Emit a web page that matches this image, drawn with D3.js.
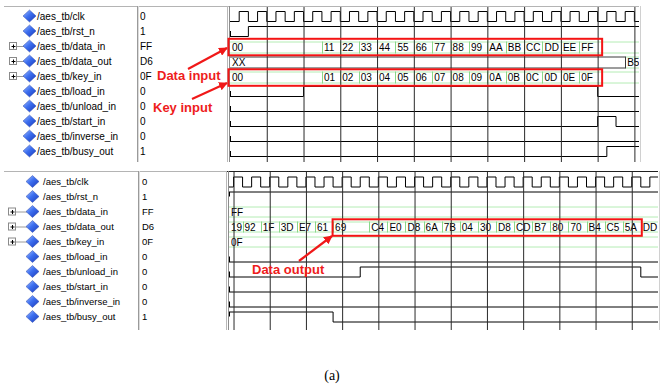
<!DOCTYPE html>
<html>
<head>
<meta charset="utf-8">
<script src="https://cdn.jsdelivr.net/npm/d3@7"></script>
<style>
  body { margin: 0; background: #fff; }
  svg { display: block; }
  text { font-family: "Liberation Sans", Arial, sans-serif; }
</style>
</head>
<body>
<div id="chart"></div>
<script>
// signals listed in both panes
const signalNames = ['/aes_tb/clk', '/aes_tb/rst_n', '/aes_tb/data_in', '/aes_tb/data_out', '/aes_tb/key_in',
    '/aes_tb/load_in', '/aes_tb/unload_in', '/aes_tb/start_in', '/aes_tb/inverse_in', '/aes_tb/busy_out'];
const busSignals = ['/aes_tb/data_in', '/aes_tb/data_out', '/aes_tb/key_in'];
const cursorValues = ['0', '1', 'FF', 'D6', '0F', '0', '0', '0', '0', '1'];

// top pane (time in half clock periods)
const topClkEdges = [1, 2, 3, 4, 5, 6, 7, 8, 9, 10, 11, 12, 13, 14, 15, 16, 17, 18, 19, 20, 21, 22,
    23, 24, 25, 26, 27, 28, 29, 30, 31, 32, 33, 34, 35, 36, 37, 38, 39, 40, 41, 42, 43, 44];
const topRstN = [[0, 0], [2, 1]];
const topDataInTimes = [0, 10, 12, 14, 16, 18, 20, 22, 24, 26, 28, 30, 32, 34, 36, 38];
const topDataInValues = ['00', '11', '22', '33', '44', '55', '66', '77', '88', '99', 'AA', 'BB', 'CC', 'DD', 'EE', 'FF'];
const topDataOutTimes = [0, 43];
const topDataOutValues = ['XX', 'B5'];
const topKeyInTimes = [0, 10, 12, 14, 16, 18, 20, 22, 24, 26, 28, 30, 32, 34, 36, 38];
const topKeyInValues = ['00', '01', '02', '03', '04', '05', '06', '07', '08', '09', '0A', '0B', '0C', '0D', '0E', '0F'];
const topLoadIn = [[0, 0], [8, 1], [40, 0]];
const topUnloadIn = [[0, 0]];
const topStartIn = [[0, 0], [40, 1], [42, 0]];
const topInverseIn = [[0, 0]];
const topBusyOut = [[0, 0], [41, 1]];
const topGrid = [4, 8, 12, 16, 20, 24, 28, 32, 36, 40, 44];

// bottom pane
const botClkEdges = [0, 1, 2, 3, 4, 5, 6, 7, 8, 9, 10, 11, 12, 13, 14, 15, 16, 17, 18, 19, 20, 21, 22, 23,
    24, 25, 26, 27, 28, 29, 30, 31, 32, 33, 34, 35, 36, 37, 38, 39, 40, 41, 42, 43, 44, 45, 46];
const botRstN = [[-0.5, 1]];
const botDataInTimes = [-0.5];
const botDataInValues = ['FF'];
const botDataOutTimes = [-0.5, 1, 3, 5, 7, 9, 11, 15, 17, 19, 21, 23, 25, 27, 29, 31, 33, 35, 37, 39, 41, 43, 45];
const botDataOutValues = ['19', '92', '1F', '3D', 'E7', '61', '69', 'C4', 'E0', 'D8', '6A', '7B', '04', '30',
    'D8', 'CD', 'B7', '80', '70', 'B4', 'C5', '5A', 'DD'];
const botKeyInTimes = [-0.5];
const botKeyInValues = ['0F'];
const botLoadIn = [[-0.5, 0]];
const botUnloadIn = [[-0.5, 0], [14, 1], [45, 0]];
const botStartIn = [[-0.5, 0]];
const botInverseIn = [[-0.5, 0]];
const botBusyOut = [[-0.5, 1], [11, 0]];
const botGrid = [0, 4, 8, 12, 16, 20, 24, 28, 32, 36, 40, 44];

const width = 665;
const height = 386;

const svg = d3.select('#chart').append('svg')
    .attr('width', width)
    .attr('height', height);

const defs = svg.append('defs');
const grad = defs.append('linearGradient')
    .attr('id', 'diamond')
    .attr('x1', 0).attr('y1', 0).attr('x2', 1).attr('y2', 1);
grad.append('stop').attr('offset', '0%').attr('stop-color', '#a8c4ff');
grad.append('stop').attr('offset', '45%').attr('stop-color', '#3d6ff0');
grad.append('stop').attr('offset', '100%').attr('stop-color', '#1838b8');

defs.append('marker')
    .attr('id', 'arrow')
    .attr('viewBox', '0 -5 10 10')
    .attr('refX', 9)
    .attr('refY', 0)
    .attr('markerWidth', 4)
    .attr('markerHeight', 4)
    .attr('orient', 'auto')
    .append('path')
    .attr('d', 'M0,-5L10,0L0,5Z')
    .attr('fill', '#f01818');

function drawPane(cfg, pane, id) {
    const g = svg.append('g');
    const x = d3.scaleLinear().domain(cfg.domain).range([cfg.waveX0, cfg.waveX1]);
    const y = d3.scalePoint().domain(signalNames).range([cfg.rowY0, cfg.rowY0 + 135]);
    const hi = n => y(n) - 4.5;
    const lo = n => y(n) + 5.5;

    defs.append('clipPath').attr('id', 'clip' + id)
        .append('rect')
        .attr('x', cfg.waveX0).attr('y', cfg.y0)
        .attr('width', cfg.waveX1 - cfg.waveX0).attr('height', cfg.y1 - cfg.y0);

    // pane frame
    g.append('line')
        .attr('x1', 4).attr('x2', cfg.waveX0 - 2)
        .attr('y1', cfg.y0 + 0.5).attr('y2', cfg.y0 + 0.5)
        .attr('stroke', '#b4b4b4');
    g.append('line')
        .attr('x1', cfg.waveX0 - 2).attr('x2', cfg.waveX1)
        .attr('y1', cfg.y0 + 0.5).attr('y2', cfg.y0 + 0.5)
        .attr('stroke', cfg.waveTopColor);
    [[cfg.dividerX, '#9a9a9a'], [cfg.dividerX + 1, '#dcdcdc'],
     [cfg.waveX0 - 3, '#b8b8b8'], [cfg.waveX0 - 1, '#8c8c8c'], [cfg.waveX1 + 1, '#d0d0d0']]
        .forEach(([lx, c]) => {
            g.append('line')
                .attr('x1', lx + 0.5).attr('x2', lx + 0.5)
                .attr('y1', cfg.y0).attr('y2', cfg.y1)
                .attr('stroke', c);
        });

    // signal names
    const rows = g.selectAll('g.row')
        .data(signalNames)
        .join('g')
        .attr('class', 'row')
        .attr('transform', d => `translate(0,${y(d)})`);

    rows.filter(d => busSignals.includes(d))
        .each(function () {
            const r = d3.select(this);
            r.append('rect')
                .attr('x', cfg.plusX + 0.5).attr('y', -3.5)
                .attr('width', 7).attr('height', 7)
                .attr('fill', '#fff').attr('stroke', '#8a8a8a');
            r.append('path')
                .attr('d', `M${cfg.plusX + 2.5},0.5h4M${cfg.plusX + 4.5},-1.5v4`)
                .attr('stroke', '#000');
            r.append('line')
                .attr('x1', cfg.plusX + 8).attr('x2', cfg.diamondX - 5)
                .attr('y1', 0.5).attr('y2', 0.5)
                .attr('stroke', '#9a9a9a');
        });

    rows.append('path')
        .attr('d', `M${cfg.diamondX},-6L${cfg.diamondX + 6.5},0L${cfg.diamondX},6L${cfg.diamondX - 6.5},0Z`)
        .attr('fill', 'url(#diamond)')
        .attr('stroke', '#2a48b0')
        .attr('stroke-width', 0.5);

    rows.append('text')
        .attr('x', cfg.nameX)
        .attr('y', 3.5)
        .style('font-size', cfg.fontSize + 'px')
        .text(d => d);

    rows.append('text')
        .attr('x', cfg.valueX)
        .attr('y', 3.5)
        .style('font-size', cfg.fontSize + 'px')
        .text((d, i) => cursorValues[i]);

    const waves = g.append('g').attr('clip-path', `url(#clip${id})`);
    const line = d3.line().curve(d3.curveStepAfter);

    // clock: level alternates after each edge, starting low
    let lvl = 0;
    const clkLine = [[cfg.domain[0], 0]];
    pane.clk.forEach(t => { lvl = 1 - lvl; clkLine.push([t, lvl]); });
    clkLine.push([cfg.domain[1], lvl]);
    const clkName = signalNames[0];
    waves.append('path')
        .attr('d', line(clkLine.map(([t, v]) => [x(t), v ? hi(clkName) : lo(clkName)])))
        .attr('fill', 'none')
        .attr('stroke', '#000');

    // single bit signals
    pane.bits.forEach(([name, changes]) => {
        const pts = changes.concat([[cfg.domain[1], changes[changes.length - 1][1]]]);
        waves.append('path')
            .attr('d', line(pts.map(([t, v]) => [x(t), v ? hi(name) : lo(name)])))
            .attr('fill', 'none')
            .attr('stroke', '#000');
        waves.append('line')
            .attr('x1', x(changes[0][0]) + 0.5).attr('x2', x(changes[0][0]) + 0.5)
            .attr('y1', y(name)).attr('y2', changes[0][1] ? hi(name) : lo(name))
            .attr('stroke', '#000');
    });

    // buses
    pane.buses.forEach(([name, times, values]) => {
        const segs = times.map((t, i) => ({
            t0: t,
            t1: i < times.length - 1 ? times[i + 1] : cfg.domain[1],
            v: values[i],
            prev: i > 0 ? values[i - 1] : null
        }));
        const yUp = y(name) - cfg.busUp;
        const yDn = y(name) + cfg.busDown;
        const sg = waves.selectAll(null)
            .data(segs)
            .join('g');
        sg.append('path')
            .attr('d', d => `M${x(d.t0)},${yUp + 0.5}H${x(d.t1)}M${x(d.t0)},${yDn + 0.5}H${x(d.t1)}`)
            .attr('stroke', d => d.v === 'XX' ? '#3a3a3a' : '#b4ecb4')
            .attr('fill', 'none');
        sg.filter(d => d.prev !== null)
            .append('line')
            .attr('x1', d => Math.round(x(d.t0)) + 0.5).attr('x2', d => Math.round(x(d.t0)) + 0.5)
            .attr('y1', yUp).attr('y2', yDn + 1)
            .attr('stroke', d => d.prev === 'XX' ? '#3a3a3a' : '#8ad88a');
        sg.append('text')
            .attr('x', d => x(d.t0) + 2)
            .attr('y', y(name) + cfg.busText)
            .style('font-size', '10px')
            .text(d => d.v);
    });

    // grid lines from the time axis
    g.append('g')
        .attr('transform', `translate(0,${cfg.y1})`)
        .call(d3.axisTop(x).tickValues(pane.grid).tickSize(cfg.y1 - cfg.y0 - 1).tickFormat(''))
        .call(a => a.select('.domain').remove())
        .call(a => a.selectAll('line').attr('stroke', '#2a2a2a'));

    return { x, y };
}

const topCfg = {
    domain: [0, 44.5], waveX0: 230, waveX1: 639, y0: 6, y1: 162, rowY0: 16,
    dividerX: 137, plusX: 9, diamondX: 29.5, nameX: 37, valueX: 140, fontSize: 10,
    busUp: 4.5, busDown: 6.5, busText: 4.5, waveTopColor: '#b4b4b4'
};
const botCfg = {
    domain: [-0.5, 46.9], waveX0: 229, waveX1: 658, y0: 171, y1: 330, rowY0: 181.5,
    dividerX: 138, plusX: 8, diamondX: 32.5, nameX: 43, valueX: 142, fontSize: 9.5,
    busUp: 5, busDown: 5, busText: 4, waveTopColor: '#202020'
};

const topPane = drawPane(topCfg, {
    clk: topClkEdges,
    bits: [['/aes_tb/rst_n', topRstN], ['/aes_tb/load_in', topLoadIn], ['/aes_tb/unload_in', topUnloadIn],
        ['/aes_tb/start_in', topStartIn], ['/aes_tb/inverse_in', topInverseIn], ['/aes_tb/busy_out', topBusyOut]],
    buses: [['/aes_tb/data_in', topDataInTimes, topDataInValues], ['/aes_tb/data_out', topDataOutTimes, topDataOutValues],
        ['/aes_tb/key_in', topKeyInTimes, topKeyInValues]],
    grid: topGrid
}, 'top');

const botPane = drawPane(botCfg, {
    clk: botClkEdges,
    bits: [['/aes_tb/rst_n', botRstN], ['/aes_tb/load_in', botLoadIn], ['/aes_tb/unload_in', botUnloadIn],
        ['/aes_tb/start_in', botStartIn], ['/aes_tb/inverse_in', botInverseIn], ['/aes_tb/busy_out', botBusyOut]],
    buses: [['/aes_tb/data_in', botDataInTimes, botDataInValues], ['/aes_tb/data_out', botDataOutTimes, botDataOutValues],
        ['/aes_tb/key_in', botKeyInTimes, botKeyInValues]],
    grid: botGrid
}, 'bot');

// red highlight boxes
const ann = svg.append('g');
const boxes = [
    { x0: topPane.x(0) - 1.5, x1: topPane.x(40) + 4.5, yc: topPane.y('/aes_tb/data_in') + 1 },
    { x0: topPane.x(0) - 1.5, x1: topPane.x(40) + 4.5, yc: topPane.y('/aes_tb/key_in') + 1.5 },
    { x0: botPane.x(11) - 0.5, x1: botPane.x(45) + 1, yc: botPane.y('/aes_tb/data_out') + 1 }
];
ann.selectAll('rect.box')
    .data(boxes)
    .join('rect')
    .attr('class', 'box')
    .attr('x', d => d.x0).attr('y', d => d.yc - 8.2)
    .attr('width', d => d.x1 - d.x0).attr('height', 16.5)
    .attr('fill', 'none')
    .attr('stroke', '#f41414')
    .attr('stroke-width', 2);

const labels = [
    { text: 'Data input', x: 157, y: 80 },
    { text: 'Key input', x: 153, y: 112 },
    { text: 'Data output', x: 252, y: 274 }
];
ann.selectAll('text.lab')
    .data(labels)
    .join('text')
    .attr('class', 'lab')
    .attr('x', d => d.x).attr('y', d => d.y)
    .style('font-size', '13px')
    .style('font-weight', 'bold')
    .attr('fill', '#ee1c1c')
    .text(d => d.text);

const arrows = [
    [188, 69, 227, 48],
    [192, 99, 227, 83],
    [299, 261, 332, 236]
];
ann.selectAll('line.arr')
    .data(arrows)
    .join('line')
    .attr('class', 'arr')
    .attr('x1', d => d[0]).attr('y1', d => d[1])
    .attr('x2', d => d[2]).attr('y2', d => d[3])
    .attr('stroke', '#f01818')
    .attr('stroke-width', 2.2)
    .attr('marker-end', 'url(#arrow)');

svg.append('text')
    .attr('x', 332)
    .attr('y', 380)
    .attr('text-anchor', 'middle')
    .style('font-family', '"Liberation Serif", "Times New Roman", serif')
    .style('font-size', '14px')
    .text('(a)');
</script>
</body>
</html>
